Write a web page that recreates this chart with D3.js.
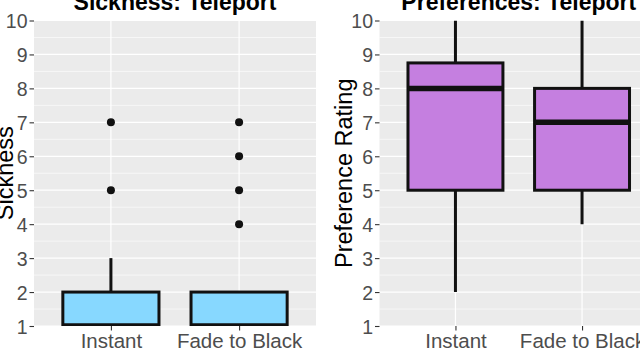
<!DOCTYPE html>
<html>
<head>
<meta charset="utf-8">
<script src="https://cdn.jsdelivr.net/npm/d3@7"></script>
<style>
  html, body { margin: 0; padding: 0; background: #ffffff; overflow: hidden; }
  svg { display: block; font-family: "Liberation Sans", Arial, sans-serif; }
</style>
</head>
<body>
<svg id="chart" width="640" height="348"></svg>
<script>
// ---- data ----
const categories = ["Instant", "Fade to Black"];
const yTicks = [1, 2, 3, 4, 5, 6, 7, 8, 9, 10];

const sickTitle = "Sickness: Teleport";
const sickYLabel = "Sickness";
const sickQ1 = [1, 1];
const sickMedian = [1, 1];
const sickQ3 = [2, 2];
const sickLower = [1, 1];
const sickUpper = [3, 2];
const sickOutliers = [[5, 7], [4, 5, 6, 7]];

const prefTitle = "Preferences: Teleport";
const prefYLabel = "Preference Rating";
const prefQ1 = [5, 5];
const prefMedian = [8, 7];
const prefQ3 = [8.75, 8];
const prefLower = [2, 4];
const prefUpper = [10, 10];
const prefOutliers = [[], []];

// ---- drawing ----
const svg = d3.select("#chart");

function panel(opts) {
  const { left, right, top, bottom, title, ylab, ylabX, fill, q1, med, q3, lo, hi, outl, id } = opts;
  const g = svg.append("g");

  const x = d3.scalePoint().domain(categories).range([left, right]).padding(0.6);
  const y = d3.scaleLinear().domain([1, 10]).range([bottom, top]);
  const bw = x.step() * 0.75;

  // clip
  svg.append("defs").append("clipPath").attr("id", id)
    .append("rect").attr("x", left).attr("y", top).attr("width", right - left).attr("height", bottom - top);

  // panel background
  g.append("rect").attr("x", left).attr("y", top).attr("width", right - left).attr("height", bottom - top)
    .attr("fill", "#EBEBEB");

  const minor = d3.range(1.5, 10, 1);
  g.selectAll(".minor").data(minor).join("line")
    .attr("x1", left).attr("x2", right).attr("y1", d => y(d)).attr("y2", d => y(d))
    .attr("stroke", "#ffffff").attr("stroke-width", 0.6);
  g.selectAll(".major").data(yTicks).join("line")
    .attr("x1", left).attr("x2", right).attr("y1", d => y(d)).attr("y2", d => y(d))
    .attr("stroke", "#ffffff").attr("stroke-width", 1.2);
  g.selectAll(".vmaj").data(categories).join("line")
    .attr("x1", d => x(d)).attr("x2", d => x(d)).attr("y1", top).attr("y2", bottom)
    .attr("stroke", "#ffffff").attr("stroke-width", 1.2);

  // y axis
  const yAxis = d3.axisLeft(y).tickValues(yTicks).tickSize(4.5).tickPadding(2);
  const ya = g.append("g").attr("transform", `translate(${left},0)`).call(yAxis);
  ya.select(".domain").remove();
  ya.selectAll(".tick line").attr("stroke", "#333333").attr("stroke-width", 1.1);
  ya.selectAll(".tick text").attr("fill", "#4D4D4D").style("font-size", "19.5px")
    .style("font-family", "Liberation Sans, Arial, sans-serif").attr("dy", "0.36em");

  // x axis
  const xAxis = d3.axisBottom(x).tickSize(4.5).tickPadding(2);
  const xa = g.append("g").attr("transform", `translate(0,${bottom})`).call(xAxis);
  xa.select(".domain").remove();
  xa.selectAll(".tick line").attr("stroke", "#333333").attr("stroke-width", 1.1);
  xa.selectAll(".tick text").attr("fill", "#4D4D4D").style("font-size", "20.5px")
    .style("font-family", "Liberation Sans, Arial, sans-serif").attr("y", 22).attr("dy", 0);

  // boxes
  const pg = g.append("g").attr("clip-path", `url(#${id})`);
  categories.forEach((c, i) => {
    const cx = x(c);
    // whiskers
    if (hi[i] > q3[i]) pg.append("line").attr("x1", cx).attr("x2", cx).attr("y1", y(q3[i])).attr("y2", y(hi[i]))
      .attr("stroke", "#111").attr("stroke-width", 3);
    if (lo[i] < q1[i]) pg.append("line").attr("x1", cx).attr("x2", cx).attr("y1", y(q1[i])).attr("y2", y(lo[i]))
      .attr("stroke", "#111").attr("stroke-width", 3);
    pg.append("rect").attr("x", cx - bw / 2).attr("width", bw)
      .attr("y", y(q3[i])).attr("height", y(q1[i]) - y(q3[i]))
      .attr("fill", fill).attr("stroke", "#111").attr("stroke-width", 3);
    pg.append("line").attr("x1", cx - bw / 2).attr("x2", cx + bw / 2).attr("y1", y(med[i])).attr("y2", y(med[i]))
      .attr("stroke", "#111").attr("stroke-width", 5.5);
    pg.selectAll(null).data(outl[i]).join("circle")
      .attr("cx", cx).attr("cy", d => y(d)).attr("r", 4).attr("fill", "#111");
  });

  // title
  g.append("text").attr("x", (left + right) / 2).attr("y", 10).attr("text-anchor", "middle")
    .style("font-size", "23px").style("font-weight", "bold").attr("fill", "#000").text(title);
  // y label
  g.append("text").attr("transform", `translate(${ylabX},${(top + bottom) / 2}) rotate(-90)`)
    .attr("text-anchor", "middle").style("font-size", "23.5px").attr("fill", "#000").text(ylab);
}

panel({ id: "clipL", left: 34, right: 316, top: 20.5, bottom: 326, title: sickTitle, ylab: sickYLabel, ylabX: 12.5,
  fill: "#87D8FF", q1: sickQ1, med: sickMedian, q3: sickQ3, lo: sickLower, hi: sickUpper, outl: sickOutliers });
panel({ id: "clipR", left: 379.5, right: 658, top: 20.5, bottom: 326, title: prefTitle, ylab: prefYLabel, ylabX: 352,
  fill: "#C57FE0", q1: prefQ1, med: prefMedian, q3: prefQ3, lo: prefLower, hi: prefUpper, outl: prefOutliers });
</script>
</body>
</html>
